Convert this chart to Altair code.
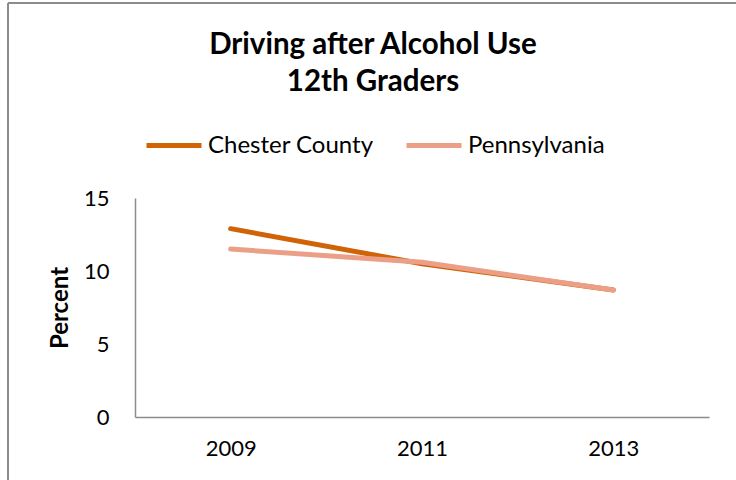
import altair as alt
import pandas as pd

years = ["2009", "2011", "2013"]
chester = [12.9, 10.5, 8.7]
penn = [11.5, 10.6, 8.7]
series = ["Chester County", "Pennsylvania"]
colors = ["#d06305", "#eb9f86"]

rows = []
for i, y in enumerate(years):
    rows.append({"Year": y, "Series": series[0], "Value": chester[i], "order": 0})
for i, y in enumerate(years):
    rows.append({"Year": y, "Series": series[1], "Value": penn[i], "order": 1})
df = pd.DataFrame(rows)

FONT = "Lato"

lines = alt.Chart(df).mark_line(strokeWidth=5, strokeCap="round", strokeJoin="round").encode(
    x=alt.X("Year:O", sort=years,
            scale=alt.Scale(type="point", padding=0.5),
            axis=alt.Axis(title=None, labelAngle=0, labelFontSize=22, labelFont=FONT,
                          labelColor="#000000", labelPadding=21, ticks=False,
                          domainColor="#8c8c8c", domainWidth=1.5, grid=False)),
    y=alt.Y("Value:Q", scale=alt.Scale(domain=[0, 15], nice=False),
            axis=alt.Axis(values=[0, 5, 10, 15], title="Percent", titleFont=FONT,
                          titleFontSize=24, titleFontWeight="bold", titleColor="#000000",
                          titleAngle=-90, titleX=-75, titleY=109.5, titleAlign="center",
                          titleBaseline="middle",
                          labelFontSize=22, labelFont=FONT, labelColor="#000000",
                          labelPadding=26, ticks=False, grid=False,
                          domainColor="#8c8c8c", domainWidth=1.5)),
    color=alt.Color("Series:N", sort=series,
                    scale=alt.Scale(domain=series, range=colors),
                    legend=alt.Legend(title=None, orient="none", direction="horizontal",
                                      legendX=9, legendY=-82.5, symbolType="stroke",
                                      symbolSize=3025, symbolStrokeWidth=5,
                                      labelFont=FONT, labelFontSize=24, labelColor="#000000",
                                      labelOffset=4, columnPadding=22, symbolLimit=0,
                                      labelLimit=400)),
    order=alt.Order("order:Q"),
    detail="Series:N",
)

frame_top = alt.Chart(df).mark_rule(color="#8c8c8c", strokeWidth=2).encode(
    x=alt.value(-127), x2=alt.value(640), y=alt.value(-195)
)
frame_left = alt.Chart(df).mark_rule(color="#8c8c8c", strokeWidth=2).encode(
    x=alt.value(-127), y=alt.value(-195), y2=alt.value(320)
)

chart = alt.layer(frame_top, frame_left, lines).properties(
    width=574,
    height=219,
    autosize=alt.AutoSizeParams(type="none"),
    padding={"left": 135, "top": 198, "right": 27, "bottom": 63},
    background="#ffffff",
    title=alt.TitleParams(
        text=["Driving after Alcohol Use", "12th Graders"],
        font=FONT, fontSize=29.5, fontWeight="bold", color="#000000",
        anchor="middle", frame="group", dx=-49, offset=-95, lineHeight=37,
    ),
).configure_view(stroke=None)

chart.save("out.html", embed_options={"renderer": "svg", "actions": False})
